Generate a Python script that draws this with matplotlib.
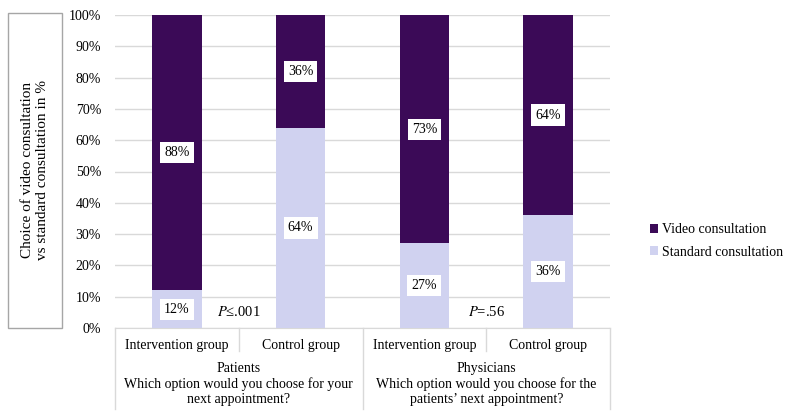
import matplotlib.pyplot as plt
from matplotlib.patches import Rectangle
from matplotlib.lines import Line2D
import numpy as np

plt.rcParams['font.family'] = ['Liberation Serif', 'DejaVu Serif']

groups = ['Intervention group', 'Control group', 'Intervention group', 'Control group']
standard = [12, 64, 27, 36]
video = [88, 36, 73, 64]
p_values = ['≤.001', '=.56']
super_labels = ['Patients\nWhich option would you choose for your\nnext appointment?',
                'Physicians\nWhich option would you choose for the\npatients\u2019 next appointment?']

dark = '#3B0A57'
light = '#D0D2F0'

fig = plt.figure(figsize=(7.85, 4.16), dpi=100)
ax = fig.add_axes([115/785, 1-328/416, (610-115)/785, (328-15)/416])

x = np.arange(len(groups))
width = 0.4
b1 = ax.bar(x, standard, width, color=light, label='Standard consultation', zorder=3)
b2 = ax.bar(x, video, width, bottom=standard, color=dark, label='Video consultation', zorder=3)

box = dict(boxstyle='square,pad=0.3', fc='white', ec='none')
for i in range(len(x)):
    ax.text(x[i], standard[i]/2, f'{standard[i]}%', ha='center', va='center',
            fontsize=10, bbox=box, zorder=4)
    ax.text(x[i], standard[i] + video[i]/2, f'{video[i]}%', ha='center', va='center',
            fontsize=10, bbox=box, zorder=4)

# p-values between the bars of each pair
for k, p in enumerate(p_values):
    ax.text(0.5 + 2*k, 5, f'$P${p}', ha='center', va='center', fontsize=10.5,
            math_fontfamily='stix', zorder=4)

ax.set_xlim(-0.5, 3.5)
ax.set_ylim(0, 100)
ax.set_yticks(np.arange(0, 101, 10))
ax.set_yticklabels([f'{v}%' for v in range(0, 101, 10)], fontsize=10)
ax.yaxis.grid(True, color='#D9D9D9', linewidth=1, zorder=0)
ax.set_xticks([])
for s in ['top', 'right', 'left']:
    ax.spines[s].set_visible(False)
ax.spines['bottom'].set_color('#D9D9D9')
ax.tick_params(axis='y', length=0, pad=10)

# category labels and separators below the axis
trans = ax.get_xaxis_transform()
for i, g in enumerate(groups):
    ax.text(x[i], -0.055, g, transform=trans, ha='center', va='center', fontsize=10)
for xs in [0.5, 2.5]:
    ax.add_line(Line2D([xs, xs], [0, -0.075], transform=trans, color='#D9D9D9',
                       lw=1, clip_on=False))
for xs in [-0.5, 1.5, 3.5]:
    ax.add_line(Line2D([xs, xs], [0, -0.26], transform=trans, color='#D9D9D9',
                       lw=1, clip_on=False))
for k, lab in enumerate(super_labels):
    ax.text(0.5 + 2*k, -0.18, lab, transform=trans, ha='center', va='center',
            fontsize=10, linespacing=1.2)

# y-axis title in a box
fig.patches.append(Rectangle((8/785, 1-328/416), 54/785, 315/416, transform=fig.transFigure,
                             fill=False, ec='#A6A6A6', lw=1))
fig.text(35/785, 1-170/416, 'Choice of video consultation\nvs standard consultation in %',
         rotation=90, ha='center', va='center', fontsize=11, linespacing=1.2)

ax.legend(handles=[b2, b1], loc='center left', bbox_to_anchor=(650/785, 1-241/416),
          bbox_transform=fig.transFigure, frameon=False, fontsize=10,
          handlelength=0.6, handleheight=0.6, handletextpad=0.3, labelspacing=0.65,
          borderpad=0, borderaxespad=0)

fig.savefig('out.png', dpi=100)
